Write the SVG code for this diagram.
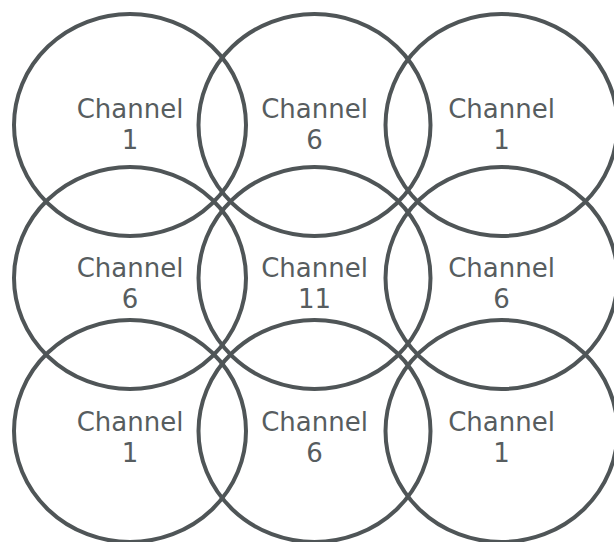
<svg xmlns="http://www.w3.org/2000/svg" width="614" height="542" viewBox="0 0 614 542">
  <style>
    .cell ellipse { fill: none; stroke: #4f5557; stroke-width: 4; }
    .cell text { font-family: "DejaVu Sans", Verdana, sans-serif; font-size: 26px; fill: #575d5f; text-anchor: middle; }
  </style>
  <rect width="614" height="542" fill="#ffffff"/>
  <g id="c11" class="cell"><ellipse cx="130" cy="125" rx="116" ry="111"/><text x="130" y="118">Channel</text><text x="130" y="149">1</text></g>
  <g id="c12" class="cell"><ellipse cx="314.5" cy="125" rx="116" ry="111"/><text x="314.5" y="118">Channel</text><text x="314.5" y="149">6</text></g>
  <g id="c13" class="cell"><ellipse cx="501.5" cy="125" rx="116" ry="111"/><text x="501.5" y="118">Channel</text><text x="501.5" y="149">1</text></g>
  <g id="c21" class="cell"><ellipse cx="130" cy="278" rx="116" ry="111"/><text x="130" y="277">Channel</text><text x="130" y="308">6</text></g>
  <g id="c22" class="cell"><ellipse cx="314.5" cy="278" rx="116" ry="111"/><text x="314.5" y="277">Channel</text><text x="314.5" y="308">11</text></g>
  <g id="c23" class="cell"><ellipse cx="501.5" cy="278" rx="116" ry="111"/><text x="501.5" y="277">Channel</text><text x="501.5" y="308">6</text></g>
  <g id="c31" class="cell"><ellipse cx="130" cy="431" rx="116" ry="111"/><text x="130" y="431">Channel</text><text x="130" y="462">1</text></g>
  <g id="c32" class="cell"><ellipse cx="314.5" cy="431" rx="116" ry="111"/><text x="314.5" y="431">Channel</text><text x="314.5" y="462">6</text></g>
  <g id="c33" class="cell"><ellipse cx="501.5" cy="431" rx="116" ry="111"/><text x="501.5" y="431">Channel</text><text x="501.5" y="462">1</text></g>
  <g id="connectors"/>
</svg>
